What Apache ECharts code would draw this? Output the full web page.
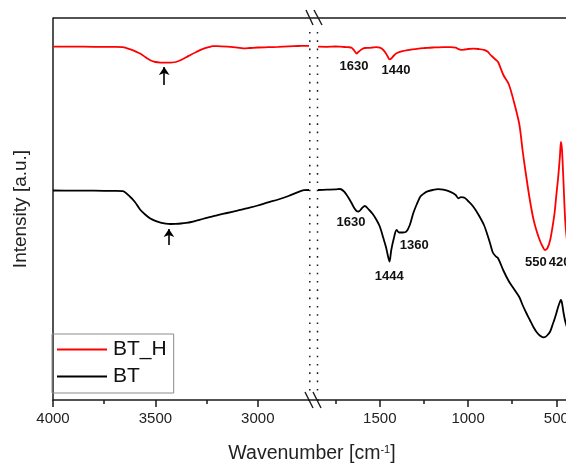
<!DOCTYPE html>
<html>
<head>
<meta charset="utf-8">
<script src="https://cdn.jsdelivr.net/npm/echarts@6/dist/echarts.min.js"></script>
<style>
  html, body { margin: 0; padding: 0; background: #fff; }
  #main { width: 566px; height: 464px; }
</style>
</head>
<body>
<div id="main"></div>
<script>
// left part of the broken axis (4000 - 2750 cm-1)
const wnLeft = [4000, 3900, 3800, 3700, 3660, 3625, 3600, 3575, 3550, 3525, 3500, 3475, 3450, 3425, 3400, 3375,
  3350, 3325, 3300, 3270, 3240, 3220, 3200, 3150, 3100, 3070, 3040, 3000, 2950, 2900, 2850, 2800, 2775, 2750];
const bthLeft = [353.3, 353.4, 353.2, 353.1, 352.8, 350.8, 348.8, 346.5, 343, 339.8, 338, 337.4, 337.3, 337.4, 338, 340,
  342.7, 345.5, 348, 350.8, 352.8, 353.8, 353.9, 353.4, 352.4, 351.7, 352, 352.5, 352.8, 353.1, 353.6, 354, 354.2, 354.2];
const btLeft = [209.5, 209.4, 209.3, 209.1, 208.8, 203.5, 198, 190.5, 185.5, 181.5, 179.2, 177.4, 176.4, 176, 176.1, 176.5,
  177.1, 178, 179.3, 181, 182.6, 183.6, 184.7, 187, 189.3, 190.8, 192.3, 194.5, 197.6, 200.5, 204, 208.2, 209.8, 210];

// right part of the broken axis (1850 - 400 cm-1)
const wnRight = [1850, 1800, 1750, 1725, 1700, 1680, 1660, 1645, 1630, 1620, 1600, 1585, 1560, 1540, 1520, 1500, 1480, 1465,
  1455, 1445, 1435, 1420, 1405, 1390, 1370, 1350, 1330, 1310, 1290, 1270, 1250, 1230, 1200, 1170, 1140, 1100, 1070, 1055,
  1040, 1020, 1000, 970, 940, 910, 890, 875, 860, 845, 830, 800, 770, 740, 710, 690, 670, 650, 630, 610, 590, 575, 565,
  550, 535, 520, 510, 500, 490, 480, 474, 468, 460, 450, 440, 430, 420, 410, 400];
const bthRight = [353.3, 353.2, 353.5, 353.3, 353, 352.8, 352.3, 349.5, 346.5, 348.2, 351, 352, 352.2, 352.5, 352.8, 352.3, 350, 346.5,
  343.5, 340.7, 341.5, 344.5, 346.7, 347.8, 348.8, 349.6, 350.2, 350.7, 351.2, 351.6, 351.9, 352.2, 352.5, 352.7, 352.8, 352.8, 352.3, 351,
  350.2, 350.5, 351, 351.3, 351, 350.2, 348.5, 345.5, 343, 340.5, 338, 325, 316, 298, 276, 248, 223, 200, 181, 168, 158, 152.5, 150,
  152, 160, 175, 187, 205, 222, 243, 258, 250, 220, 180, 160, 152, 150, 155, 165];
const btRight = [210, 210.3, 210.6, 211, 208, 203, 197, 192, 188.8, 188.5, 192, 194, 190, 186, 180.5, 173.5, 162, 153,
  145, 138.5, 150, 162, 170, 167.5, 167.5, 168.3, 175, 187, 196, 203.5, 206.5, 208.6, 210, 210.8, 210.3, 208.2, 205, 201.7,
  202.8, 202.3, 199, 193.3, 185, 175, 165, 156.5, 147.5, 144, 141.8, 129.5, 119, 111, 103, 94.5, 87, 80, 73, 67.5, 64, 62.7, 62.8,
  65, 68.5, 76, 81, 86.7, 93, 98, 100, 97, 88, 79, 73, 68, 65, 63, 62];

// band labels: [text, wavenumber, intensity]
const bthBands = [['1630', 1646, 333.3], ['1440', 1408, 329.3], ['550', 616, 137.7], ['420', 482, 137.7]];
const btBands = [['1630', 1663, 177.7], ['1444', 1446, 124], ['1360', 1305, 154.3]];
// arrows: [wavenumber, from, to]
const ohArrows = [[3457, 315, 333], [3434, 155, 171]];

const ticksLeft = [3000, 3250, 3500, 3750, 4000];
const labelsLeft = [3000, 3500, 4000];
const ticksRight = [500, 750, 1000, 1250, 1500, 1750];
const labelsRight = [500, 1000, 1500];

const zip = (xs, ys) => xs.map((x, i) => [x, ys[i]]);
const FONT = 'Arial, "Liberation Sans", sans-serif';
const INK = '#1a1a1a';

function bandPoints(list) {
  return list.map(b => ({ name: b[0], coord: [b[1], b[2]] }));
}

function xAxes(gridIndex, min, max, ticks, labels, major) {
  return {
    type: 'value', gridIndex: gridIndex, min: min, max: max, inverse: true, position: 'bottom',
    axisLine: { show: major, lineStyle: { color: INK, width: 1.5 } },
    axisTick: { show: true, inside: false, length: major ? 7 : 4, customValues: major ? labels : ticks,
      lineStyle: { color: INK, width: 1.5 } },
    axisLabel: { show: major, customValues: labels, formatter: v => String(v),
      color: '#222', fontSize: 15, fontFamily: FONT, margin: 11 },
    splitLine: { show: false }
  };
}

const labelStyle = { show: true, position: 'inside', formatter: p => p.name,
  fontSize: 13, fontWeight: 'bold', color: '#111', fontFamily: FONT };

let myChart = echarts.init(document.getElementById('main'));
myChart.setOption({
  animation: false,
  backgroundColor: '#fff',
  grid: [
    { left: 53, top: 18, width: 256, height: 382, outerBoundsMode: 'none', containLabel: false },
    { left: 318, top: 18, width: 256, height: 382, outerBoundsMode: 'none', containLabel: false }
  ],
  xAxis: [
    xAxes(0, 2750, 4000, ticksLeft, labelsLeft, true),
    xAxes(0, 2750, 4000, ticksLeft, labelsLeft, false),
    xAxes(1, 400, 1850, ticksRight, labelsRight, true),
    xAxes(1, 400, 1850, ticksRight, labelsRight, false)
  ],
  yAxis: [
    { type: 'value', gridIndex: 0, min: 0, max: 382,
      axisLine: { show: true, lineStyle: { color: INK, width: 1.5 } },
      axisTick: { show: false }, axisLabel: { show: false }, splitLine: { show: false },
      name: 'Intensity [a.u.]', nameLocation: 'middle', nameRotate: 90, nameGap: 23,
      nameTextStyle: { fontSize: 19, color: '#222', fontFamily: FONT } },
    { type: 'value', gridIndex: 1, min: 0, max: 382, show: false }
  ],
  legend: {
    orient: 'vertical', left: 52, top: 334,
    padding: [5, 7, 6, 5], itemGap: 6, itemWidth: 50, itemHeight: 2,
    borderColor: '#8c8c8c', borderWidth: 1, borderRadius: 0,
    textStyle: { fontSize: 21, color: '#111', fontFamily: FONT, lineHeight: 20, padding: [0, 0, 0, 1] },
    data: [{ name: 'BT_H', icon: 'rect' }, { name: 'BT', icon: 'rect' }]
  },
  series: [
    { name: 'BT_H', type: 'line', xAxisIndex: 0, yAxisIndex: 0, data: zip(wnLeft, bthLeft),
      showSymbol: false, symbol: 'none', smooth: 0.3, lineStyle: { color: '#ff0000', width: 1.8 }, itemStyle: { color: '#ff0000' } },
    { name: 'BT', type: 'line', xAxisIndex: 0, yAxisIndex: 0, data: zip(wnLeft, btLeft),
      showSymbol: false, symbol: 'none', smooth: 0.3, lineStyle: { color: '#000', width: 1.8 }, itemStyle: { color: '#000' },
      markLine: {
        silent: true, symbol: ['none', 'arrow'], symbolSize: 8, label: { show: false },
        lineStyle: { color: '#000', width: 1.6, type: 'solid' },
        data: ohArrows.map(a => [{ coord: [a[0], a[1]] }, { coord: [a[0], a[2]] }])
      } },
    { name: 'BT_H', type: 'line', xAxisIndex: 2, yAxisIndex: 1, data: zip(wnRight, bthRight),
      showSymbol: false, symbol: 'none', smooth: 0.3, lineStyle: { color: '#ff0000', width: 1.8 }, itemStyle: { color: '#ff0000' },
      markPoint: { symbol: 'circle', symbolSize: 0, silent: true, label: labelStyle, data: bandPoints(bthBands) } },
    { name: 'BT', type: 'line', xAxisIndex: 2, yAxisIndex: 1, data: zip(wnRight, btRight),
      showSymbol: false, symbol: 'none', smooth: 0.3, lineStyle: { color: '#000', width: 1.8 }, itemStyle: { color: '#000' },
      markPoint: { symbol: 'circle', symbolSize: 0, silent: true, label: labelStyle, data: bandPoints(btBands) } }
  ],
  graphic: [
    // top frame line and the bottom axis across the break
    { type: 'line', shape: { x1: 53, y1: 18, x2: 600, y2: 18 }, style: { stroke: INK, lineWidth: 1.5 } },
    { type: 'line', shape: { x1: 308, y1: 400, x2: 319, y2: 400 }, style: { stroke: INK, lineWidth: 1.5 } },
    // break marks
    { type: 'line', shape: { x1: 306, y1: 10, x2: 313, y2: 25 }, style: { stroke: INK, lineWidth: 1.4 } },
    { type: 'line', shape: { x1: 314, y1: 10, x2: 322, y2: 25 }, style: { stroke: INK, lineWidth: 1.4 } },
    { type: 'line', shape: { x1: 305, y1: 392, x2: 313, y2: 408 }, style: { stroke: INK, lineWidth: 1.4 } },
    { type: 'line', shape: { x1: 313, y1: 392, x2: 321, y2: 408 }, style: { stroke: INK, lineWidth: 1.4 } },
    // dotted separators
    { type: 'line', shape: { x1: 309.8, y1: 32, x2: 309.8, y2: 396 }, style: { stroke: INK, lineWidth: 1.5, lineDash: [1.6, 6.7] } },
    { type: 'line', shape: { x1: 317.5, y1: 32, x2: 317.5, y2: 396 }, style: { stroke: INK, lineWidth: 1.5, lineDash: [1.6, 6.7] } },
    { type: 'text', x: 312, y: 454,
      style: { text: 'Wavenumber [cm{sup|-1}]', fontSize: 19.5, fontFamily: FONT, fill: '#222',
        align: 'center', verticalAlign: 'middle',
        rich: { sup: { fontSize: 11, fontFamily: FONT, fill: '#222', verticalAlign: 'top' } } } }
  ]
});
</script>
</body>
</html>
